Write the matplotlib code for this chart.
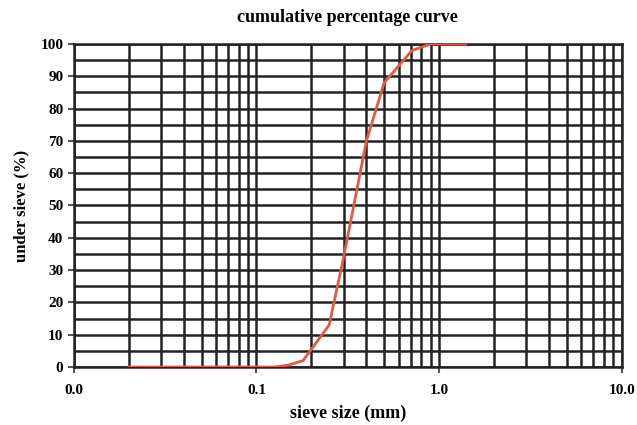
import numpy as np
import matplotlib.pyplot as plt
from matplotlib.ticker import LogLocator, NullFormatter, FixedLocator

# sieve data
size_mm = [0.02, 0.125, 0.15, 0.18, 0.25, 0.3, 0.4, 0.5, 0.71, 0.9, 1.4]
passing = [0, 0, 0.6, 2, 13, 34, 70, 88, 98, 100, 100]

x_ticks = [0.01, 0.1, 1, 10]
x_labels = ["0.0", "0.1", "1.0", "10.0"]
y_ticks = list(range(0, 101, 10))

plt.rcParams['font.family'] = ['Liberation Serif', 'DejaVu Serif']

fig = plt.figure(figsize=(6.37, 4.25), dpi=100)
ax = fig.add_axes([0.116, 0.1365, 0.86, 0.76])

ax.set_xscale('log')
ax.set_xlim(0.01, 10)
ax.set_ylim(0, 100)

# grid: every minor decade line and every 5 %
ax.xaxis.set_minor_locator(LogLocator(base=10, subs=np.arange(2, 10)))
ax.xaxis.set_minor_formatter(NullFormatter())
ax.yaxis.set_minor_locator(FixedLocator(range(5, 100, 10)))
ax.grid(True, which='both', color='#222222', linewidth=1.8)
ax.set_axisbelow(True)

ax.plot(size_mm, passing, color='#e05a45', linewidth=2, zorder=3)

ax.set_xticks(x_ticks)
ax.set_xticklabels(x_labels)
ax.set_yticks(y_ticks)
ax.tick_params(axis='both', which='major', labelsize=11, length=4, width=1.5, color='#555555')
ax.tick_params(axis='both', which='minor', length=0)
ax.tick_params(axis='x', pad=8)
for lab in ax.get_xticklabels() + ax.get_yticklabels():
    lab.set_fontweight('bold')

for s in ax.spines.values():
    s.set_color('#222222')
    s.set_linewidth(1.8)

ax.set_title("cumulative percentage curve", fontsize=13, pad=16, fontweight='semibold')
ax.set_xlabel("sieve size (mm)", fontsize=13, labelpad=6, fontweight='semibold')
ax.set_ylabel("under sieve (%)", fontsize=12, labelpad=8, fontweight='semibold')

fig.savefig("out.png", dpi=100)
